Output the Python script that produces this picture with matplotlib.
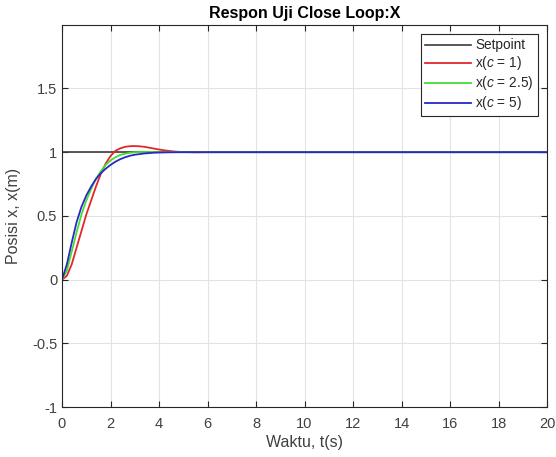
import matplotlib.pyplot as plt

plt.rcParams.update({
    "font.family": ["Liberation Sans", "DejaVu Sans"],
    "mathtext.fontset": "custom",
    "mathtext.it": "Liberation Sans:italic",
    "mathtext.rm": "Liberation Sans",
})

# Data
t_setpoint = [0, 20]
setpoint = [1, 1]

t_red = [0, 0.2, 0.4, 0.6, 0.8, 1.0, 1.2, 1.4, 1.6, 1.8, 2.0, 2.2, 2.4, 2.6, 2.8,
         3.0, 3.2, 3.4, 3.6, 3.8, 4.0, 4.2, 4.4, 4.6, 4.8, 5.0, 5.5, 6.0, 20]
x_red = [0, 0.03, 0.12, 0.25, 0.38, 0.51, 0.62, 0.73, 0.83, 0.91, 0.97, 1.01, 1.03,
         1.042, 1.047, 1.048, 1.046, 1.042, 1.035, 1.028, 1.021, 1.015, 1.010, 1.006,
         1.003, 1.001, 0.999, 1.0, 1.0]

t_green = [0, 0.2, 0.4, 0.6, 0.8, 1.0, 1.2, 1.4, 1.6, 1.8, 2.0, 2.2, 2.4, 2.6, 2.8,
           3.0, 3.2, 3.6, 4.0, 5.0, 20]
x_green = [0, 0.07, 0.22, 0.37, 0.51, 0.62, 0.71, 0.79, 0.85, 0.90, 0.935, 0.96,
           0.978, 0.988, 0.995, 0.999, 1.001, 1.002, 1.001, 1.0, 1.0]

t_blue = [0, 0.2, 0.4, 0.6, 0.8, 1.0, 1.2, 1.4, 1.6, 1.8, 2.0, 2.2, 2.4, 2.6, 2.8,
          3.0, 3.4, 3.8, 4.4, 5.0, 20]
x_blue = [0, 0.12, 0.29, 0.45, 0.57, 0.66, 0.73, 0.79, 0.835, 0.87, 0.90, 0.925,
          0.945, 0.96, 0.972, 0.98, 0.99, 0.996, 0.999, 1.0, 1.0]

x_ticks = list(range(0, 21, 2))
y_ticks = [-1, -0.5, 0, 0.5, 1, 1.5]
y_ticklabels = ['-1', '-0.5', '0', '0.5', '1', '1.5']

fig = plt.figure(figsize=(5.56, 4.57), dpi=100)
ax = fig.add_axes([0.1115, 0.109, 0.8725, 0.837])

ax.plot(t_setpoint, setpoint, color='#3c3c3c', lw=1.2, label='Setpoint')
ax.plot(t_red, x_red, color='#e3262a', lw=1.3, label=r'x($\mathit{c}$ = 1)')
ax.plot(t_green, x_green, color='#44dd33', lw=1.3, label=r'x($\mathit{c}$ = 2.5)')
ax.plot(t_blue, x_blue, color='#2828c4', lw=1.3, label=r'x($\mathit{c}$ = 5)')

ax.set_xlim(0, 20)
ax.set_ylim(-1, 2)
ax.set_xticks(x_ticks)
ax.set_yticks(y_ticks)
ax.set_yticklabels(y_ticklabels)
ax.grid(True, color='#e3e3e3', lw=0.8)
ax.set_axisbelow(True)
ax.tick_params(direction='in', length=4, colors='#262626', labelcolor='#404040',
               labelsize=10.5, top=True, right=True, labeltop=False, labelright=False)
ax.tick_params(axis='x', pad=7)
for s in ax.spines.values():
    s.set_color('#262626')
    s.set_linewidth(0.8)

ax.set_title('Respon Uji Close Loop:X', fontsize=11.5, fontweight='bold', pad=5)
ax.set_xlabel('Waktu, t(s)', fontsize=11.5, color='#404040', labelpad=3)
ax.set_ylabel('Posisi x, x(m)', fontsize=11.5, color='#404040', labelpad=8)

leg = ax.legend(loc='upper right', fontsize=9.8, fancybox=False, framealpha=1,
                edgecolor='#262626', handlelength=3.4, borderaxespad=0.7,
                borderpad=0.3, labelspacing=0.15, handletextpad=0.3)
leg.get_frame().set_linewidth(0.8)
for txt in leg.get_texts():
    txt.set_color('#262626')

fig.savefig('out.png', dpi=100)
